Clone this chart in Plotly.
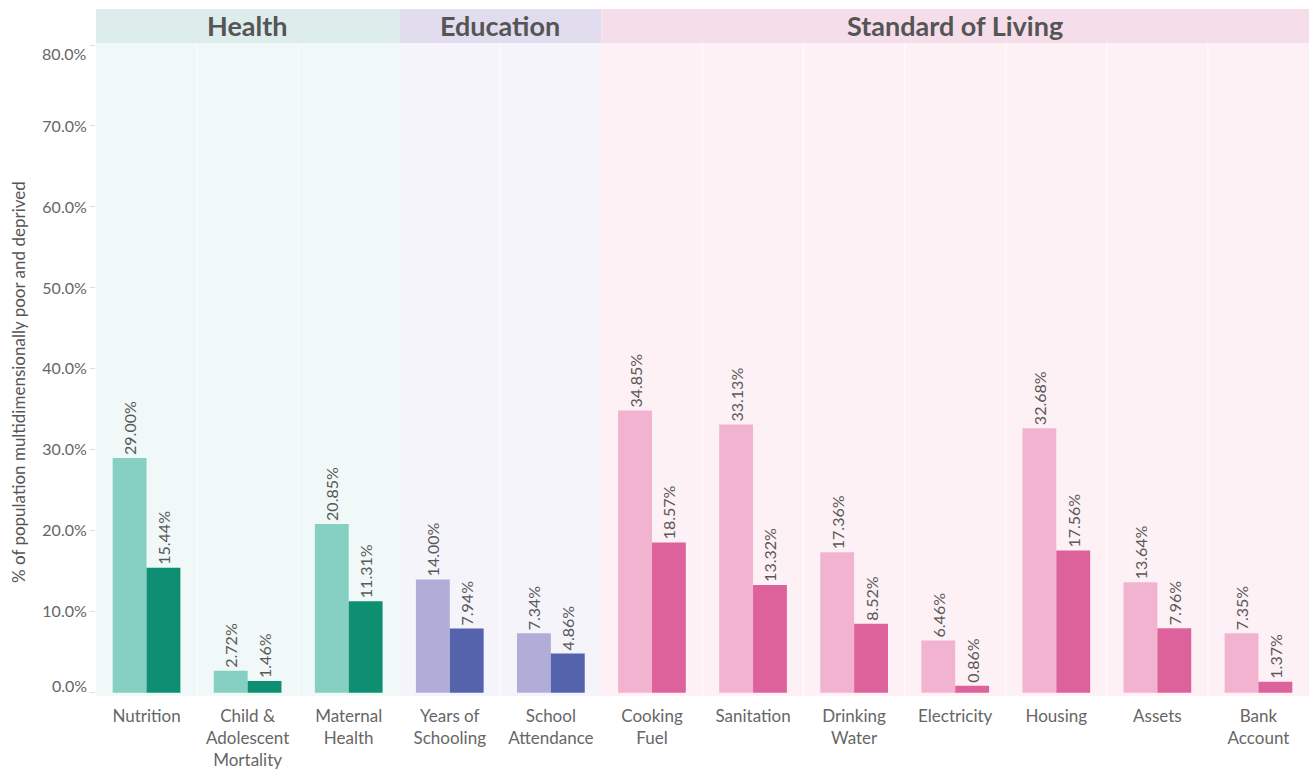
import plotly.graph_objects as go

categories = ["Nutrition", "Child &<br>Adolescent<br>Mortality", "Maternal<br>Health",
              "Years of<br>Schooling", "School<br>Attendance", "Cooking<br>Fuel", "Sanitation",
              "Drinking<br>Water", "Electricity", "Housing", "Assets", "Bank<br>Account"]
groups = ["Health", "Health", "Health", "Education", "Education",
          "Standard of Living", "Standard of Living", "Standard of Living", "Standard of Living",
          "Standard of Living", "Standard of Living", "Standard of Living"]
series_a = [29.00, 2.72, 20.85, 14.00, 7.34, 34.85, 33.13, 17.36, 6.46, 32.68, 13.64, 7.35]
series_b = [15.44, 1.46, 11.31, 7.94, 4.86, 18.57, 13.32, 8.52, 0.86, 17.56, 7.96, 1.37]
y_ticks = [0, 10, 20, 30, 40, 50, 60, 70, 80]
y_tick_labels = ["0.0%", "10.0%", "20.0%", "30.0%", "40.0%", "50.0%", "60.0%", "70.0%", "80.0%"]

group_order = ["Health", "Education", "Standard of Living"]
light = {"Health": "#86CFC3", "Education": "#B0AED8", "Standard of Living": "#F2B3D1"}
dark = {"Health": "#0F8F72", "Education": "#5563AD", "Standard of Living": "#DD629C"}
body_bg = {"Health": "#F0F9F8", "Education": "#F5F4FA", "Standard of Living": "#FEF1F5"}
head_bg = {"Health": "#DDEDEC", "Education": "#E1DDEF", "Standard of Living": "#F5DDE9"}

FONT = "Lato"
xs = list(range(len(categories)))

W, H = 1309, 769
ML, MR, MT, MB = 96, 0, 43, 73
plot_h = H - MT - MB
plot_w = W - ML - MR

fig = go.Figure()
for vals, cmap in ((series_a, light), (series_b, dark)):
    fig.add_trace(go.Bar(
        x=xs, y=vals, marker_color=[cmap[g] for g in groups], marker_line_width=0,
        texttemplate="%{y:.2f}%", textposition="outside", textangle=-90,
        textfont=dict(family=FONT, size=16, color="#595959"), cliponaxis=False,
        constraintext="none", hoverinfo="skip"))

head_top = 1 + 34 / plot_h
shapes = []
annotations = []
for g in group_order:
    idx = [i for i, gg in enumerate(groups) if gg == g]
    x0, x1 = min(idx) - 0.5, max(idx) + 0.5
    shapes.append(dict(type="rect", xref="x", yref="paper", x0=x0, x1=x1, y0=0, y1=1,
                       fillcolor=body_bg[g], line_width=0, layer="below"))
    shapes.append(dict(type="rect", xref="x", yref="paper", x0=x0, x1=x1, y0=1, y1=head_top,
                       fillcolor=head_bg[g], line_width=0, layer="below"))
    for k in idx[:-1]:
        shapes.append(dict(type="line", xref="x", yref="paper", x0=k + 0.5, x1=k + 0.5, y0=0, y1=1,
                           line=dict(color="rgba(255,255,255,0.8)", width=1), layer="below"))
    annotations.append(dict(text="<b>%s</b>" % g, xref="x", yref="paper", x=(x0 + x1) / 2,
                            y=(1 + head_top) / 2, showarrow=False, xanchor="center", yanchor="middle",
                            font=dict(family=FONT, size=27, color="#555555")))

annotations.append(dict(text="% of population multidimensionally poor and deprived",
                        xref="paper", yref="paper", x=(18 - ML) / plot_w,
                        y=(696 - 382) / plot_h, textangle=-90,
                        showarrow=False, xanchor="center", yanchor="middle",
                        font=dict(family=FONT, size=17, color="#555555")))

# end tick labels are nudged inward (top one down, bottom one up)
shown_ticks = list(y_tick_labels)
for i, py in ((0, 685), (len(y_ticks) - 1, 54)):
    annotations.append(dict(text=y_tick_labels[i], xref="paper", yref="paper",
                            x=(89 - ML) / plot_w, y=(696 - py) / plot_h,
                            xanchor="right", yanchor="middle", showarrow=False,
                            font=dict(family=FONT, size=16, color="#666666")))
    shown_ticks[i] = ""

fig.update_layout(
    width=W, height=H,
    margin=dict(l=ML, r=MR, t=MT, b=MB, autoexpand=False),
    paper_bgcolor="white", plot_bgcolor="white",
    barmode="group", bargap=0.33, bargroupgap=0,
    showlegend=False,
    shapes=shapes, annotations=annotations,
    xaxis=dict(tickmode="array", tickvals=xs, ticktext=categories, range=[-0.5, 11.5],
               showgrid=False, zeroline=False, showline=False, ticks="", automargin=False,
               ticklabelstandoff=8,
               tickfont=dict(family=FONT, size=17, color="#666666"), tickangle=0, fixedrange=True),
    yaxis=dict(range=[-0.4, 80.25], tickmode="array", tickvals=y_ticks, ticktext=shown_ticks,
               showgrid=False, zeroline=False, showline=False, automargin=False,
               ticks="outside", ticklen=5, tickcolor="#DDDDDD",
               tickfont=dict(family=FONT, size=16, color="#666666"), fixedrange=True),
)

# remove the browser's default 8px page margin so the 1309x769 figure fills the window
fig.write_html("out.html", config={"displayModeBar": False},
               post_script="document.body.style.margin='0';")
